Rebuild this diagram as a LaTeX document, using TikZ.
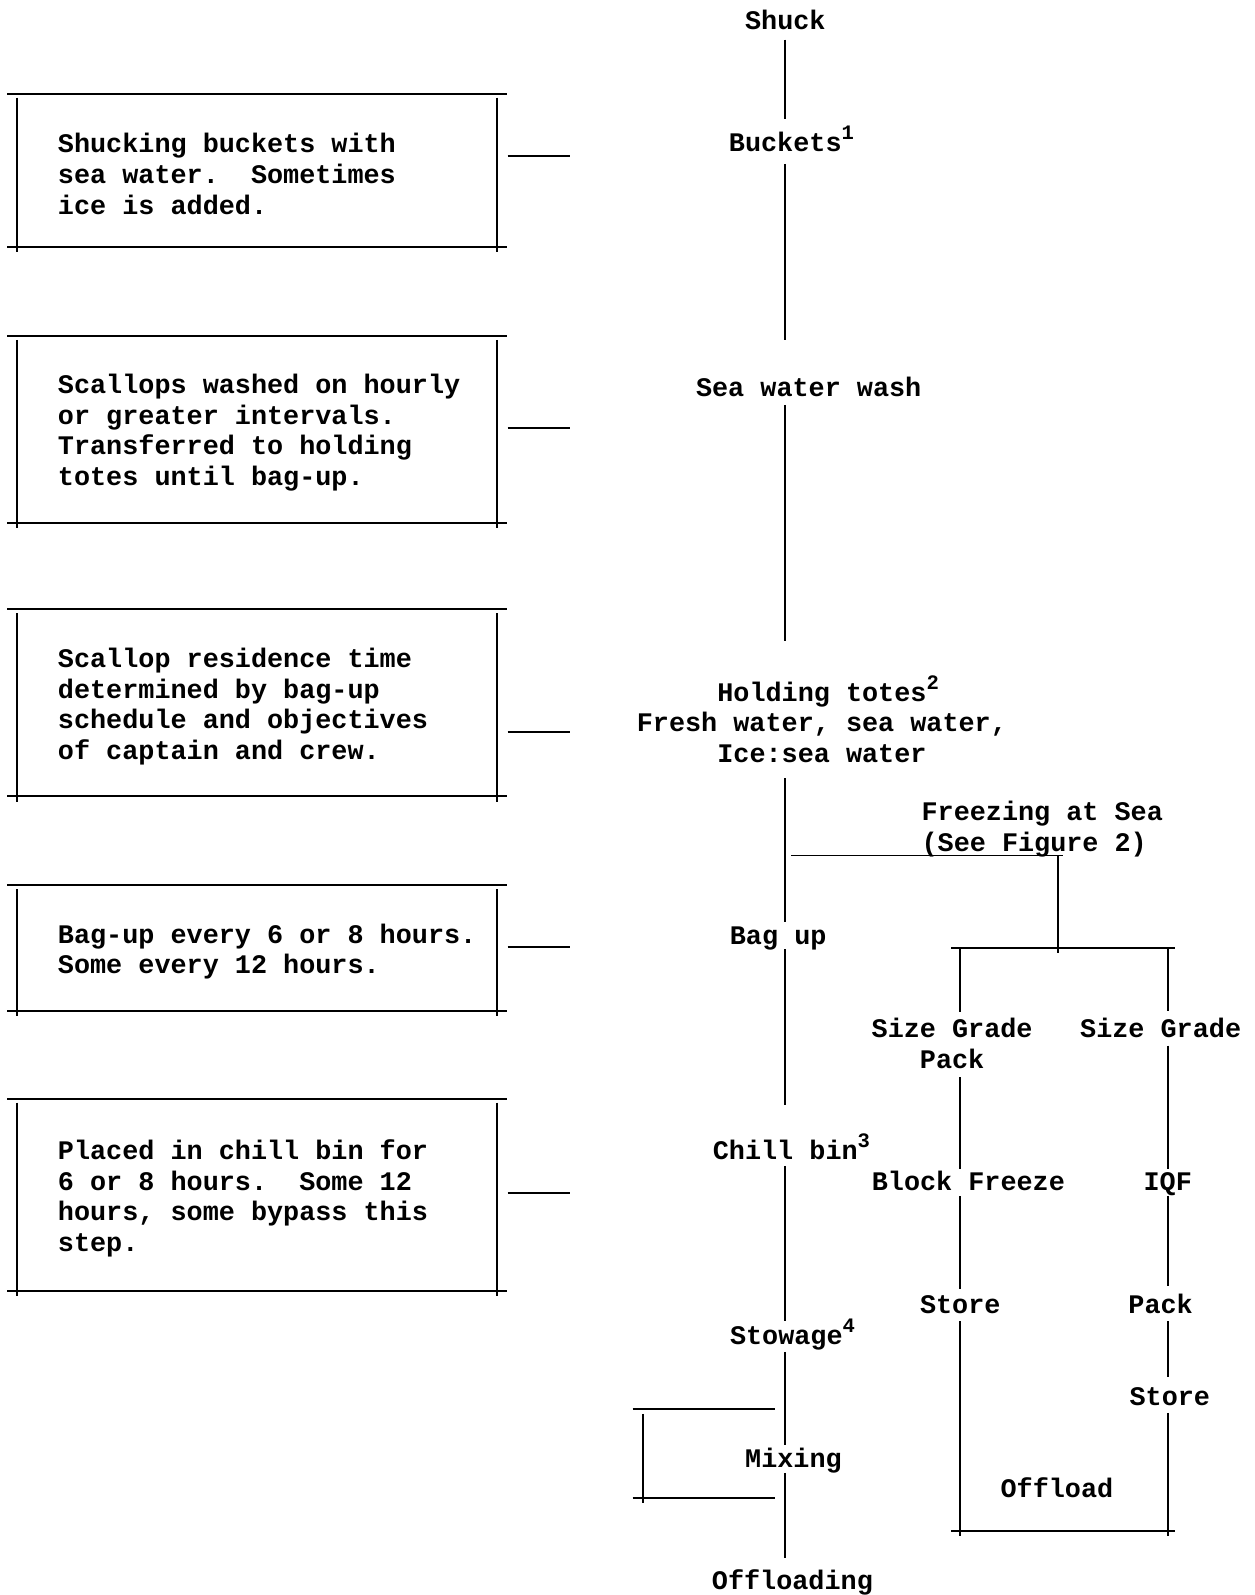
\documentclass[tikz,border=0pt]{standalone}
\usepackage{fontspec}
\setmainfont{Liberation Mono}
\usetikzlibrary{positioning}

\newcommand{\fnmark}[1]{\rlap{\raisebox{0.45em}{\fontsize{11.5}{12}\selectfont #1}}}

\tikzset{
  every node/.style={font=\fontsize{15}{17.1}\selectfont\bfseries},
  lbl/.style={inner sep=0pt, text height=11.3pt, text depth=0.7pt},
  multi/.style={inner sep=0pt, align=center},
  frame/.style={minimum width=94mm, inner sep=0pt},
  note/.style={inner sep=0pt, align=left, yshift=-0.7mm},
}

\begin{document}
\begin{tikzpicture}[x=0.2mm, y=-0.2mm, line width=1.1pt]
\useasboundingbox (0,0) rectangle (1233,1568);

% notes on the left
\node[frame, minimum height=29.8mm] (f1) at (253,167.5) {};
\node[note, right=7.8mm of f1.west] (n1) {Shucking buckets with\\sea water.\ \ Sometimes\\ice is added.};
\node[frame, minimum height=36.4mm] (f2) at (253,422) {};
\node[note, right=7.8mm of f2.west] (n2) {Scallops washed on hourly\\or greater intervals.\\Transferred to holding\\totes until bag-up.};
\node[frame, minimum height=36.4mm] (f3) at (253,691) {};
\node[note, right=7.8mm of f3.west] (n3) {Scallop residence time\\determined by bag-up\\schedule and objectives\\of captain and crew.};
\node[frame, minimum height=24.4mm] (f4) at (253,932) {};
\node[note, right=7.8mm of f4.west] (n4) {Bag-up every 6 or 8 hours.\\Some every 12 hours.};
\node[frame, minimum height=37.4mm] (f5) at (253,1174.5) {};
\node[note, right=7.8mm of f5.west] (n5) {Placed in chill bin for\\6 or 8 hours.\ \ Some 12\\hours, some bypass this\\step.};

\foreach \f in {f1,f2,f3,f4,f5}{
  \draw ([xshift=-2mm]\f.north west) -- ([xshift=1.8mm]\f.north east);
  \draw ([xshift=-2mm]\f.south west) -- ([xshift=1.8mm]\f.south east);
  \draw ([yshift=-0.8mm]\f.north west) -- ([yshift=-1mm]\f.south west);
  \draw ([yshift=-0.8mm]\f.north east) -- ([yshift=-1mm]\f.south east);
}

\coordinate (s1) at (560,153);
\coordinate (s2) at (560,421);
\coordinate (s3) at (560,720);
\coordinate (s4) at (560,931);
\coordinate (s5) at (560,1173);
\foreach \f/\s in {f1/s1,f2/s2,f3/s3,f4/s4,f5/s5}
  \draw (\f.east |- \s) ++(2mm,0) -- (\s);

% main line
\coordinate (trunk) at (772,0);
\node[lbl] (shuck) at (772,20) {Shuck};
\node[lbl] (buckets) at (772,140) {Buckets\fnmark{1}};
\node[lbl] (wash) at (795,380) {Sea water wash};
\node[multi] (totes) at (808,707) {Holding totes\fnmark{2}\\Fresh water, sea water,\\Ice:sea water};
\node[lbl] (bagup) at (765,919) {Bag up};
\node[lbl] (chill) at (772,1131) {Chill bin\fnmark{3}};
\node[lbl] (stowage) at (773,1312) {Stowage\fnmark{4}};
\node[lbl] (mixing) at (780,1433) {Mixing};
\node[lbl] (offloading) at (779,1553) {Offloading};

\draw[shorten <=1.5mm, shorten >=2.3mm] (shuck.south -| trunk) -- (buckets.north -| trunk);
\draw[shorten <=1.9mm, shorten >=6.9mm] (buckets.south -| trunk) -- (wash.north -| trunk);
\draw[shorten <=1.3mm, shorten >=6.6mm] (wash.south -| trunk) -- (totes.north -| trunk);
\draw[shorten <=2.8mm, shorten >=0.3mm] (totes.south -| trunk) -- (bagup.north -| trunk);
\draw[shorten <=0.5mm, shorten >=6.7mm] (bagup.south -| trunk) -- (chill.north -| trunk);
\draw[shorten <=0.7mm, shorten >=0.3mm] (chill.south -| trunk) -- (stowage.north -| trunk);
\draw[shorten <=1.1mm, shorten >=0.1mm] (stowage.south -| trunk) -- (mixing.north -| trunk);
\draw[shorten <=0.7mm, shorten >=1.9mm] (mixing.south -| trunk) -- (offloading.north -| trunk);

% mixing bracket
\draw (622,1385) -- (762,1385);
\draw (632,1390) -- (632,1478);
\draw (622,1473) -- (762,1473);

% freezing at sea
\node[multi, align=left, anchor=west] (freeze) at (905,815) {Freezing at Sea\\(See Figure 2)};
\coordinate (tap) at (778,841);
\coordinate (fork) at (1040,841);
\coordinate (split) at (1040,937);
\draw (tap) -- ([xshift=1mm]fork);
\draw (fork) -- (split);

\coordinate (colA) at (944,932);
\coordinate (colB) at (1148,932);
\coordinate (endA) at (944,1505);
\coordinate (endB) at (1148,1505);
\draw ([xshift=-1.8mm]colA) -- ([xshift=1.4mm]colB);
\draw ([xshift=-1.8mm]endA) -- ([xshift=1.4mm]endB);

\node[multi] (sizeA) at (936,1025.5) {Size Grade\\Pack};
\node[lbl] (block) at (952,1161) {Block Freeze};
\node[lbl] (storeA) at (944,1282) {Store};
\node[lbl] (offload) at (1039,1463) {Offload};

\node[lbl] (sizeB) at (1141,1011) {Size Grade};
\node[lbl] (iqf) at (1148,1161) {IQF};
\node[lbl] (packB) at (1141,1282) {Pack};
\node[lbl] (storeB) at (1150,1372) {Store};

\draw[shorten >=1mm] (colA) -- (sizeA.north -| colA);
\draw[shorten <=1.6mm] (sizeA.south -| colA) -- (block.north -| colA);
\draw[shorten <=0.7mm, shorten >=0.7mm] (block.south -| colA) -- (storeA.north -| colA);
\draw[shorten <=1.1mm] (storeA.south -| colA) -- ([yshift=-1mm]endA);

\draw[shorten >=1.1mm] (colB) -- (sizeB.north -| colB);
\draw[shorten <=1.1mm] (sizeB.south -| colB) -- (iqf.north -| colB);
\draw[shorten <=0.7mm, shorten >=1.3mm] (iqf.south -| colB) -- (packB.north -| colB);
\draw[shorten <=1.1mm, shorten >=1.3mm] (packB.south -| colB) -- (storeB.north -| colB);
\draw[shorten <=1.1mm] (storeB.south -| colB) -- ([yshift=-1mm]endB);
\end{tikzpicture}
\end{document}
